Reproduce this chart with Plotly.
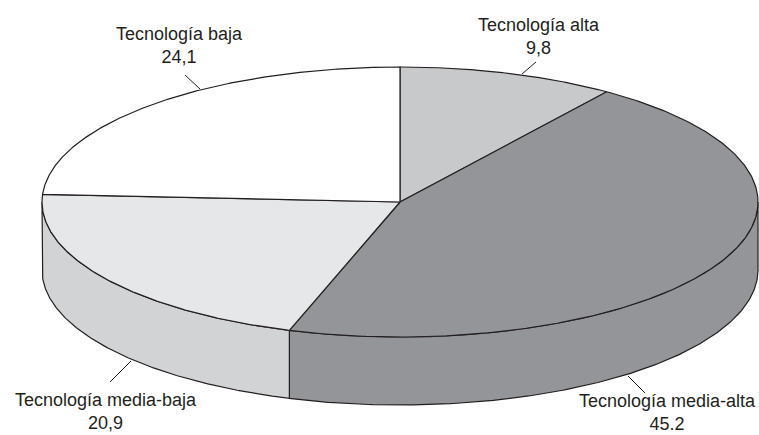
import numpy as np
import plotly.graph_objects as go

# ---- data ----
categories = ["Tecnología alta", "Tecnología media-alta", "Tecnología media-baja", "Tecnología baja"]
values = [9.8, 45.2, 20.9, 24.1]
value_labels = ["9,8", "45.2", "20,9", "24,1"]

# ---- styles / geometry ----
top_colors = ["#c8c9cb", "#939598", "#e6e7e8", "#ffffff"]
side_colors = ["#c8c9cb", "#939598", "#d1d3d4", "#ffffff"]
CX, CY = 400.0, 202.0   # centre of top face (pixel-like coords)
RA, RB = 358.0, 135.0   # ellipse radii
DEPTH = 68.0

def ell(theta_deg, dy=0.0):
    t = np.radians(theta_deg)
    return CX + RA * np.sin(t), CY - RB * np.cos(t) + dy

total = float(sum(values))
angles = np.concatenate([[0.0], np.cumsum(values) / total * 360.0])

fig = go.Figure()
line = dict(color="#231f20", width=1.2)

# sides (front half: 90..270 degrees)
for i in range(len(values)):
    a0, a1 = max(angles[i], 90.0), min(angles[i + 1], 270.0)
    if a1 <= a0:
        continue
    th = np.linspace(a0, a1, 200)
    xt, yt = ell(th)
    xb, yb = ell(th[::-1], DEPTH)
    xs = np.concatenate([xt, xb, xt[:1]])
    ys = np.concatenate([yt, yb, yt[:1]])
    fig.add_trace(go.Scatter(x=xs, y=ys, mode="lines", fill="toself",
                             fillcolor=side_colors[i], line=line,
                             hoverinfo="skip", showlegend=False))

# top faces
for i in range(len(values)):
    th = np.linspace(angles[i], angles[i + 1], 300)
    xt, yt = ell(th)
    xs = np.concatenate([[CX], xt, [CX]])
    ys = np.concatenate([[CY], yt, [CY]])
    fig.add_trace(go.Scatter(x=xs, y=ys, mode="lines", fill="toself",
                             fillcolor=top_colors[i], line=line,
                             hoverinfo="skip", showlegend=False))

# labels with leader lines
label_layout = [
    dict(touch=(522, 74), end=(536, 62), pos=(539, 36)),
    dict(touch=(628, 376), end=(645, 393), pos=(667, 412)),
    dict(touch=(131, 361), end=(110, 382), pos=(106, 411)),
    dict(touch=(200, 89), end=(185, 75), pos=(179, 45)),
]
for i, lay in enumerate(label_layout):
    (x0, y0), (x1, y1) = lay["touch"], lay["end"]
    fig.add_trace(go.Scatter(x=[x0, x1], y=[y0, y1], mode="lines",
                             line=dict(color="#231f20", width=1),
                             hoverinfo="skip", showlegend=False))
    fig.add_annotation(x=lay["pos"][0], y=lay["pos"][1],
                       text=f"{categories[i]}<br>{value_labels[i]}",
                       showarrow=False, xanchor="center", yanchor="middle",
                       borderpad=0,
                       font=dict(family="Liberation Sans, Arial, sans-serif",
                                 size=18, color="#231f20"),
                       align="center")

fig.update_layout(
    width=759, height=435,
    margin=dict(l=0, r=0, t=0, b=0),
    paper_bgcolor="white", plot_bgcolor="white",
    xaxis=dict(range=[0, 759], visible=False, fixedrange=True),
    yaxis=dict(range=[435, 0], visible=False, fixedrange=True),
)
fig.write_html("out.html", config={"displayModeBar": False},
               post_script="document.body.style.margin='0';document.body.style.overflow='hidden';")
